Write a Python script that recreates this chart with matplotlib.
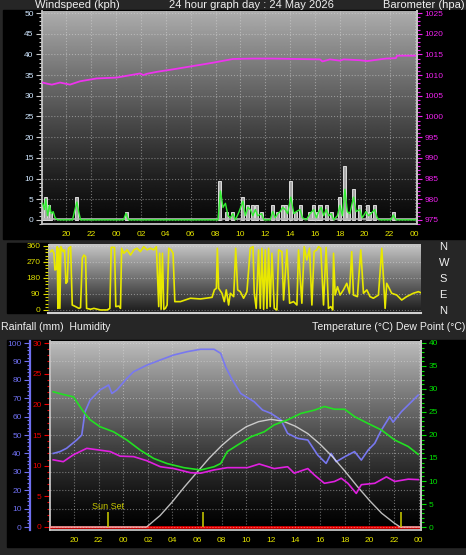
import numpy as np
import matplotlib.pyplot as plt
from matplotlib.patches import Rectangle
from matplotlib.ticker import MultipleLocator

plt.rcParams['font.family'] = ['Liberation Sans', 'DejaVu Sans']

# hours relative to midnight at start of the day (-4 = 20:00 previous day)
hour_ticks = [-4, -2, 0, 2, 4, 6, 8, 10, 12, 14, 16, 18, 20, 22, 24]
hour_labels = ['20', '22', '00', '02', '04', '06', '08', '10', '12', '14', '16', '18', '20', '22', '00']

# barometer (hpa)
baro_t = [-5.9, -5.5, -5.16, -4.5, -3.7, -3.3, -2.9, -1.55, 0.05, 0.8, 1.93, 2.2, 2.46, 3.3,
          4.6, 6.2, 7.8, 9.4, 11.0, 12.6, 14.5, 16.4, 16.6, 17.2, 18.0, 18.3, 19.6, 20.2, 21.7, 22.5, 22.6, 24.15]
baro_v = [1008.2, 1007.9, 1007.7, 1008.2, 1007.7, 1008.1, 1008.5, 1009.2, 1009.4, 1009.8, 1010.4, 1010.0, 1010.3, 1010.8,
          1011.4, 1012.2, 1013.0, 1013.9, 1014.0, 1014.0, 1013.9, 1013.8, 1013.3, 1013.8, 1013.5, 1013.8, 1013.6, 1013.4, 1014.0, 1014.1, 1014.7, 1014.7]

# gusts (kph)
gust_t = [-5.85, -5.65, -5.45, -5.25, -3.15, 0.85, 8.35, 8.9, 9.4, 10.2, 10.6, 11.0, 11.3, 11.7, 12.6, 13.0,
          13.4, 13.6, 14.05, 14.4, 14.8, 15.6, 15.9, 16.2, 16.4, 16.9, 17.3, 18.0, 18.4, 18.7, 19.1, 19.6,
          20.2, 20.4, 20.8, 22.3]
gust_v = [3.7, 5.6, 3.7, 1.85, 5.6, 1.85, 9.3, 1.85, 1.85, 5.6, 3.7, 3.7, 3.7, 1.85, 3.7, 1.85,
          3.7, 3.7, 9.3, 1.85, 3.7, 1.85, 3.7, 1.85, 3.7, 3.7, 1.85, 5.6, 13.0, 1.85, 7.4, 3.7,
          3.7, 1.85, 3.7, 1.85]

# wind speed (kph)
wind_t = [-5.9, -5.75, -5.65, -5.5, -5.35, -5.2, -5.05, -4.9, -4.7, -3.5, -3.3, -3.15, -3.0, -2.85,
          0.6, 0.8, 1.0, 8.2, 8.4, 8.6, 8.8, 9.0, 9.2, 9.4, 9.6, 9.9, 10.2, 10.4, 10.6, 10.8, 11.0,
          11.2, 11.4, 11.7, 11.9, 12.4, 12.6, 12.8, 13.0, 13.2, 13.4, 13.6, 13.8, 14.05, 14.3, 14.5,
          14.8, 15.0, 15.3, 15.6, 15.9, 16.1, 16.3, 16.5, 16.7, 16.9, 17.1, 17.3, 17.5, 17.8, 18.0,
          18.2, 18.4, 18.6, 18.8, 19.1, 19.3, 19.6, 19.8, 20.1, 20.3, 20.5, 20.8, 21.0, 21.2, 22.1,
          22.3, 22.5, 24.15]
wind_v = [4, 2.5, 5, 1, 3.5, 1.5, 2, 0.5, 0, 0, 2.5, 4.3, 2, 0,
          0, 1.6, 0, 0, 7, 3, 4, 1, 0.5, 1.5, 0, 2, 4.5, 1, 3, 2.5, 1,
          2.5, 1, 1.5, 0, 0, 2, 0.5, 1.5, 2, 3, 2.5, 1.5, 5.5, 1.5, 2,
          2.5, 0.5, 0, 1.5, 2.5, 0.5, 2, 3, 1, 2.5, 1, 1.5, 0, 1, 3.5,
          1, 7.4, 2, 1.5, 5.5, 2, 2.5, 0.5, 2, 1, 1.5, 2.5, 0.5, 0, 0,
          1.2, 0, 0]

# wind direction (degrees)
dir_t = [-5.74, -5.60, -5.47, -5.39, -5.28, -5.20, -5.15, -5.07, -4.99, -4.91, -4.72, -4.61, -4.50, -4.39,
         -4.29, -4.12, -3.99, -3.72, -3.45, -3.32, -3.18, -3.05, -2.91, -2.83, -2.51, -2.24, -1.70, -1.17,
         -0.95, -0.84, -0.57, -0.47, -0.22, -0.09, 0.0, 0.18, 0.45, 0.72, 0.99, 1.25, 1.52, 1.79, 2.06,
         2.33, 2.60, 2.81, 3.00, 3.08, 3.19, 3.30, 3.41, 3.54, 3.68, 3.81, 4.00, 4.16, 4.30, 4.75, 5.56,
         6.37, 7.31, 7.50, 7.66, 7.74, 7.84, 8.11, 8.30, 8.46, 8.65, 8.79, 9.06, 9.22, 9.38, 9.59, 9.86,
         10.13, 10.40, 10.62, 10.72, 10.88, 11.07, 11.21, 11.34, 11.48, 11.61, 11.75, 11.88, 12.01, 12.15,
         12.34, 12.55, 12.69, 12.96, 13.09, 13.36, 13.58, 13.90, 14.17, 14.30, 14.57, 14.76, 14.97, 15.19,
         15.38, 15.56, 15.78, 15.92, 16.10, 16.32, 16.53, 16.72, 16.91, 17.07, 17.13, 17.26, 17.45, 17.66,
         17.93, 18.20, 18.42, 18.60, 18.74, 19.06, 19.33, 19.55, 19.82, 20.08, 20.35, 20.76, 21.03, 21.30,
         21.43, 21.83, 22.24, 22.64, 23.04, 23.58, 23.99, 24.15]
dir_v = [328, 338, 319, 225, 229, 356, 9, 347, 9, 356, 328, 338, 150, 159,
         347, 356, 28, 19, 9, 13, 291, 309, 300, 9, 4, 9, 0, 0,
         9, 352, 352, 19, 22, 9, 347, 319, 338, 309, 338, 347, 328, 356, 338,
         347, 338, 356, 19, 319, 4, 319, 4, 9, 28, 347, 338, 319, 47, 47, 66,
         62, 71, 113, 122, 347, 122, 94, 47, 113, 28, 94, 75, 347, 113, 103, 66,
         103, 347, 356, 94, 9, 338, 9, 347, 4, 338, 9, 347, 19, 319,
         9, 0, 338, 328, 56, 338, 38, 47, 28, 338, 38, 356, 281, 347,
         28, 328, 338, 356, 347, 28, 352, 9, 19, 0, 319, 84, 131, 84,
         113, 150, 94, 328, 84, 75, 338, 94, 113, 75, 66, 84, 347, 9,
         150, 94, 84, 56, 75, 94, 103, 98]
compass_labels = ['N', 'E', 'S', 'W', 'N']

# humidity (%)
hum_t = [-5.69, -5.14, -4.60, -3.78, -3.37, -3.10, -2.69, -1.88, -1.19, -0.92, -0.52, 0.30, 0.84, 1.93,
         3.02, 4.11, 5.2, 6.29, 7.38, 7.92, 8.33, 8.87, 9.55, 10.64, 11.32, 12.0, 12.82, 13.36, 14.18,
         15.0, 15.81, 16.49, 16.90, 17.31, 18.0, 18.8, 19.35, 19.9, 20.44, 20.98, 21.66, 21.93, 22.61,
         23.43, 23.97]
hum_v = [40, 41, 42.8, 47.3, 50, 62.7, 69, 74.5, 77.2, 72.6, 74.5, 80.8, 84.4, 88,
         90.8, 93.5, 95.3, 96.6, 96.6, 94.4, 87, 80, 72.6, 68.1, 63.6, 61.8, 58.2, 50.9, 48.2,
         47.3, 39.1, 34.6, 40, 35.5, 38.2, 41, 36.4, 41.8, 45.5, 52.7, 60, 57, 62.7,
         68.1, 71.7]

# temperature (°C)
temp_t = [-5.69, -4.87, -4.05, -3.24, -2.69, -1.88, -0.79, 0.30, 1.39, 2.48, 3.56, 4.93, 6.29, 7.38,
          7.92, 8.46, 9.28, 10.37, 11.46, 12.27, 13.36, 14.45, 15.54, 16.35, 17.17, 17.99, 18.8, 19.9,
          20.98, 22.07, 23.16, 23.97]
temp_v = [29.4, 28.8, 28.3, 25.1, 23.3, 21.8, 20.7, 18.9, 16.7, 14.9, 13.8, 12.9, 12.4, 13.1,
          13.8, 16.4, 17.8, 19.6, 20.7, 22.2, 23.3, 24.7, 25.4, 26.2, 25.6, 25.6, 24.0, 22.5,
          21.1, 18.9, 17.5, 15.8]

# dew point (°C)
dew_t = [-5.69, -4.87, -4.05, -2.96, -1.88, -1.06, -0.25, 0.84, 1.93, 3.02, 4.11, 5.47, 6.29, 7.38,
         8.46, 10.1, 11.05, 12.27, 13.36, 13.9, 15.0, 15.54, 16.35, 17.17, 17.72, 18.26, 18.94, 19.35,
         20.44, 21.39, 22.07, 23.16, 23.97]
dew_v = [14.6, 14.2, 15.7, 17.1, 16.7, 16.4, 15.4, 15.3, 14.4, 13.1, 12.7, 11.8, 11.7, 12.4,
         12.9, 12.9, 13.7, 12.7, 13.1, 11.7, 12.7, 11.3, 9.5, 9.9, 10.6, 9.5, 7.3, 9.2,
         9.5, 10.9, 9.9, 10.4, 10.3]

# solar curve (drawn on the temperature scale)
solar_t = [-5.95, 1.9, 3, 4, 5, 6, 7, 8, 9, 10, 11, 12, 13, 14, 15, 16, 17, 18, 19, 20, 21, 22, 22.5, 24.2]
solar_v = [0, 0, 2.5, 5.5, 8.8, 11.9, 15.0, 17.7, 20.0, 21.8, 22.9, 23.4, 23.0, 21.9, 20.3, 18.0,
           15.3, 12.2, 8.9, 5.8, 3.0, 0.9, 0, 0]

# rainfall (mm)
rain_t = [-5.95, 24.2]
rain_v = [0, 0]

# sunrise / sunset markers
sun_t = [-1.25, 6.45, 22.6]

W, H = 466, 555
XLIM = (-5.95, 24.2)


def shade(ax, top, bottom, gamma):
    g = np.linspace(1, 0, 256)[:, None] ** gamma
    ax.imshow(bottom + (top - bottom) * g, cmap='gray', vmin=0, vmax=1, extent=(0, 1, 0, 1),
              transform=ax.transAxes, aspect='auto', zorder=0, interpolation='bilinear')


def px_axes(x0, y0, x1, y1):
    return fig.add_axes([x0 / W, 1 - y1 / H, (x1 - x0) / W, (y1 - y0) / H])


fig = plt.figure(figsize=(W / 100, H / 100), dpi=100, facecolor='#262626')
for (x0, y0, x1, y1) in [(3, 10, 466, 239), (7, 243, 48, 313), (7, 340, 466, 547)]:
    fig.patches.append(Rectangle((x0 / W, 1 - y1 / H), (x1 - x0) / W, (y1 - y0) / H,
                                 transform=fig.transFigure, color='black', zorder=-1))

grid_kw = dict(color='#e0e0e0', ls=':', lw=0.8, alpha=0.45)
frame = '#c4c4c4'

# ---- wind / barometer ----
ax1 = px_axes(42, 11, 417, 224)
shade(ax1, 0.68, 0.03, 1.25)
ax1.bar(gust_t, gust_v, width=0.25, color='#a8a8a8', edgecolor='#dcdcdc', lw=0.7, zorder=2)
ax1.axhline(0.2, color='#b8b8b8', lw=1.2, zorder=2)
ax1.plot(wind_t, wind_v, color='#33ee33', lw=1.0, zorder=3)
ax1.set_xlim(XLIM)
ax1.set_ylim(-1, 50.5)
ax1.set_yticks(range(0, 51, 5))
ax1.yaxis.set_minor_locator(MultipleLocator(1))
ax1.set_xticks(hour_ticks, hour_labels)
ax1.grid(True, **grid_kw)
ax1.tick_params(axis='y', which='both', colors='#cccccc', labelcolor='#cfe6ff', labelsize=6, width=0.8, pad=2)
ax1.tick_params(axis='y', which='major', length=4)
ax1.tick_params(axis='y', which='minor', length=2)
ax1.tick_params(axis='x', length=0, labelcolor='#e6e600', labelsize=6, pad=5)
for s in ax1.spines.values():
    s.set_color(frame)
    s.set_linewidth(1.3)
ax1.spines['top'].set_visible(False)

ax1b = ax1.twinx()
ax1b.plot(baro_t, baro_v, color='#ee33ee', lw=1.3)
ax1b.set_ylim(974, 1025.5)
ax1b.set_yticks(range(975, 1026, 5))
ax1b.yaxis.set_minor_locator(MultipleLocator(1))
ax1b.tick_params(axis='y', which='both', colors='#ee22ee', labelsize=6, width=0.8, pad=2)
ax1b.tick_params(axis='y', which='minor', length=2)
for k, s in ax1b.spines.items():
    s.set_visible(k == 'right')
ax1b.spines['right'].set_color(frame)
ax1b.spines['right'].set_linewidth(1.3)

# ---- wind direction ----
ax2 = px_axes(48, 244, 421, 313)
shade(ax2, 0.78, 0.10, 1.0)
ax2.plot(dir_t, dir_v, color='#e8e800', lw=1.2, zorder=3)
ax2.set_xlim(XLIM)
ax2.set_ylim(-17, 371)
ax2.set_yticks([0, 90, 180, 270, 360])
ax2.yaxis.set_minor_locator(MultipleLocator(18))
ax2.set_xticks(hour_ticks)
ax2.tick_params(axis='x', length=0, labelbottom=False)
ax2.tick_params(axis='y', which='both', colors='#dddd00', labelsize=6, width=0.8, pad=2)
ax2.tick_params(axis='y', which='minor', length=2)
ax2.grid(True, axis='y', **grid_kw)
for s in ax2.spines.values():
    s.set_visible(False)
ax2.spines['bottom'].set_visible(True)
ax2.spines['bottom'].set_color('#d0d0d0')
ax2.spines['bottom'].set_linewidth(1.5)

ax2b = ax2.twinx()
ax2b.set_ylim(-17, 371)
ax2b.set_yticks([0, 90, 180, 270, 360], compass_labels)
ax2b.tick_params(axis='y', length=0, labelcolor='#f0f0f0', labelsize=8, pad=13)
for s in ax2b.spines.values():
    s.set_visible(False)

# ---- rain / humidity / temperature ----
ax3 = px_axes(50, 341, 421, 530)
shade(ax3, 0.74, 0.0, 1.3)
ax3.plot(rain_t, rain_v, color='#ff0000', lw=1.8, zorder=3)
ax3.set_xlim(XLIM)
ax3.set_ylim(-0.49, 30.33)
ax3.set_yticks(range(0, 31, 5))
ax3.yaxis.set_minor_locator(MultipleLocator(1))
ax3.set_xticks(hour_ticks, hour_labels)
ax3.grid(True, axis='x', **grid_kw)
ax3.tick_params(axis='y', which='both', colors='#ee0000', labelsize=6, width=0.8, pad=2)
ax3.tick_params(axis='y', which='major', length=4)
ax3.tick_params(axis='y', which='minor', length=2)
ax3.tick_params(axis='x', length=0, labelcolor='#e6e600', labelsize=6, pad=5)
for s in ax3.spines.values():
    s.set_color(frame)
    s.set_linewidth(1.3)
ax3.spines['top'].set_visible(False)

ax3h = ax3.twinx()
ax3h.plot(hum_t, hum_v, color='#7878f0', lw=1.2)
ax3h.set_ylim(-1.6, 101.1)
ax3h.set_yticks(range(0, 101, 10))
ax3h.yaxis.set_minor_locator(MultipleLocator(2))
ax3h.yaxis.tick_left()
ax3h.grid(True, axis='y', **grid_kw)
for k, s in ax3h.spines.items():
    s.set_visible(k == 'left')
ax3h.spines['left'].set_position(('outward', 14.4))
ax3h.spines['left'].set_color('#6f6ff0')
ax3h.spines['left'].set_linewidth(1.6)
ax3h.tick_params(axis='y', which='both', colors='#6f6ff0', labelsize=6, width=0.8, pad=2)
ax3h.tick_params(axis='y', which='major', length=4)
ax3h.tick_params(axis='y', which='minor', length=2)

ax3t = ax3.twinx()
ax3t.plot(solar_t, solar_v, color='#e8e8e8', lw=1.0, alpha=0.8)
ax3t.plot(temp_t, temp_v, color='#22e022', lw=1.2)
ax3t.plot(dew_t, dew_v, color='#e020e0', lw=1.2)
ax3t.vlines(sun_t, 0, 3.3, color='#c0c000', lw=1.2)
ax3t.text(sun_t[0], 3.5, 'Sun Set', color='#c8c800', fontsize=6.5, ha='center', va='bottom')
ax3t.set_ylim(-0.65, 40.43)
ax3t.set_yticks(range(0, 41, 5))
ax3t.yaxis.set_minor_locator(MultipleLocator(1))
ax3t.tick_params(axis='y', which='both', colors='#00e000', labelsize=6, width=0.8, pad=2)
ax3t.tick_params(axis='y', which='minor', length=2)
for k, s in ax3t.spines.items():
    s.set_visible(k == 'right')
ax3t.spines['right'].set_color(frame)
ax3t.spines['right'].set_linewidth(1.3)

# ---- titles ----
tcol = '#f0f0f0'
fig.text(35 / W, 1 - 8 / H, 'Windspeed (kph)', color=tcol, fontsize=8, va='baseline')
fig.text(251 / W, 1 - 8 / H, '24 hour graph day : 24 May 2026', color=tcol, fontsize=8,
         va='baseline', ha='center')
fig.text(465 / W, 1 - 8 / H, 'Barometer (hpa)', color=tcol, fontsize=8, va='baseline', ha='right')
fig.text(1 / W, 1 - 330 / H, 'Rainfall (mm)  Humidity', color=tcol, fontsize=7.6, va='baseline')
fig.text(465 / W, 1 - 330 / H, 'Temperature (°C) Dew Point (°C)', color=tcol, fontsize=7.6,
         va='baseline', ha='right')

fig.savefig('out.png', dpi=100, facecolor=fig.get_facecolor())
